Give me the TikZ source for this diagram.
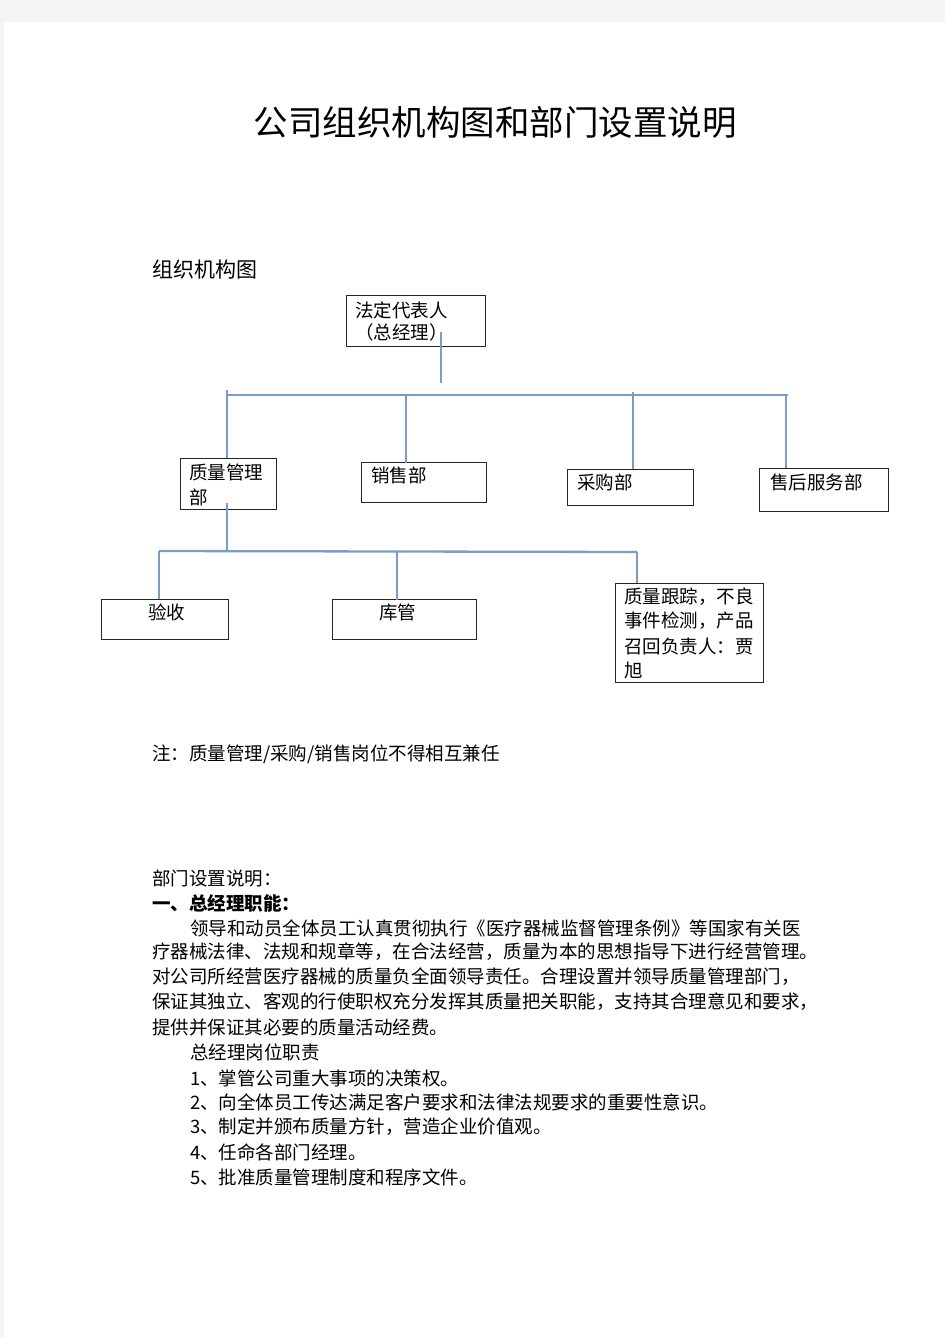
\documentclass[tikz,border=0pt]{standalone}
\usepackage{fontspec}
\setmainfont{Noto Sans CJK SC}
\definecolor{connc}{RGB}{122,156,200}
\definecolor{pagegray}{RGB}{244,244,244}
\tikzset{
  conn/.style={draw=connc, line width=2.3pt},
  box/.style={draw=black!85, line width=1.1pt, inner sep=0pt, anchor=north west},
  txt/.style={anchor=west, inner sep=0pt, text=black, font=\fontsize{18.5}{24}\selectfont},
}
\begin{document}
\begin{tikzpicture}[x=1pt, y=-1pt]
\useasboundingbox (0,0) rectangle (945,1337);
\fill[pagegray] (0,0) rectangle (945,1337);
\fill[white] (4,22) rectangle (945,1337);

% title
\node[inner sep=0pt, font=\fontsize{34.5}{40}\selectfont] (title) at (495,122) {公司组织机构图和部门设置说明};
\node[txt, font=\fontsize{21}{26}\selectfont] (orgh) at (152,270) {组织机构图};

% boxes
\node[box, minimum width=139pt, minimum height=51pt] (ceo) at (346,295) {};
\node[box, minimum width=96pt, minimum height=51pt] (qm) at (180,458) {};
\node[box, minimum width=125pt, minimum height=40pt] (sales) at (361,462) {};
\node[box, minimum width=126pt, minimum height=36pt] (purch) at (567,469) {};
\node[box, minimum width=129pt, minimum height=43pt] (after) at (759,468) {};
\node[box, minimum width=127pt, minimum height=40pt] (ys) at (101,599) {};
\node[box, minimum width=144pt, minimum height=40pt] (kg) at (332,599) {};
\node[box, minimum width=148pt, minimum height=99pt] (qt) at (615,583) {};

% box texts
\node[txt] (ceo1) at (355,310) {法定代表人};
\node[txt] (ceo2) at (355,332) {（总经理）};
\node[txt] (qm1) at (189,472) {质量管理};
\node[txt] (qm2) at (189,497) {部};
\node[txt] (salest) at (371,475) {销售部};
\node[txt] (purcht) at (577,482) {采购部};
\node[txt] (aftert) at (770,482) {售后服务部};
\node[txt] (yst) at (148,612) {验收};
\node[txt] (kgt) at (379,612) {库管};
\node[txt] (qt1) at (624,597) {质量跟踪，不良};
\node[txt] (qt2) at (624,621) {事件检测，产品};
\node[txt] (qt3) at (624,646) {召回负责人：贾};
\node[txt] (qt4) at (624,670) {旭};

% connectors level 1
\coordinate (ceoin) at (441,332);
\coordinate (ceoend) at (441,383);
\draw[conn] (ceoin) -- (ceoend);
\coordinate (barL) at (227,395);
\coordinate (barR) at (788,395);
\draw[conn] (barL) -- (barR);
\coordinate (t1) at (227,390);
\coordinate (t2) at (406,395);
\coordinate (t3) at (633,392);
\coordinate (t4) at (786,396);
\draw[conn] (t1) -- (t1 |- qm.north);
\draw[conn] (t2) -- ([yshift=-1pt]t2 |- sales.north);
\draw[conn] (t3) -- (t3 |- purch.north);
\draw[conn] (t4) -- (t4 |- after.north);

% connectors level 2
\coordinate (qmin) at (227,503);
\coordinate (bar2L) at (159,551);
\coordinate (bar2R) at (637,552);
\coordinate (m2) at (397,552);
\draw[conn] (qmin) -- (qmin |- bar2L);
\draw[conn] (bar2L) -- (bar2R);
\draw[conn] (bar2L) -- (bar2L |- ys.north);
\draw[conn] (m2) -- ([yshift=-1pt]m2 |- kg.north);
\draw[conn] (bar2R) -- (bar2R |- qt.north);

% note and description
\node[txt] (note) at (152,754) {注：质量管理/采购/销售岗位不得相互兼任};
\node[txt] (deph) at (152,878) {部门设置说明：};
\node[txt, font=\fontsize{18.5}{24}\selectfont\bfseries] (sec1) at (152,903) {一、总经理职能：};
\node[txt] (p1) at (190,928) {领导和动员全体员工认真贯彻执行《医疗器械监督管理条例》等国家有关医};
\node[txt] (p2) at (152,952) {疗器械法律、法规和规章等，在合法经营，质量为本的思想指导下进行经营管理。};
\node[txt] (p3) at (152,977) {对公司所经营医疗器械的质量负全面领导责任。合理设置并领导质量管理部门，};
\node[txt] (p4) at (152,1002) {保证其独立、客观的行使职权充分发挥其质量把关职能，支持其合理意见和要求，};
\node[txt] (p5) at (152,1027) {提供并保证其必要的质量活动经费。};
\node[txt] (d0) at (190,1052) {总经理岗位职责};
\node[txt] (d1) at (190,1078) {1、掌管公司重大事项的决策权。};
\node[txt] (d2) at (190,1102) {2、向全体员工传达满足客户要求和法律法规要求的重要性意识。};
\node[txt] (d3) at (190,1127) {3、制定并颁布质量方针，营造企业价值观。};
\node[txt] (d4) at (190,1152) {4、任命各部门经理。};
\node[txt] (d5) at (190,1177) {5、批准质量管理制度和程序文件。};
\end{tikzpicture}
\end{document}
